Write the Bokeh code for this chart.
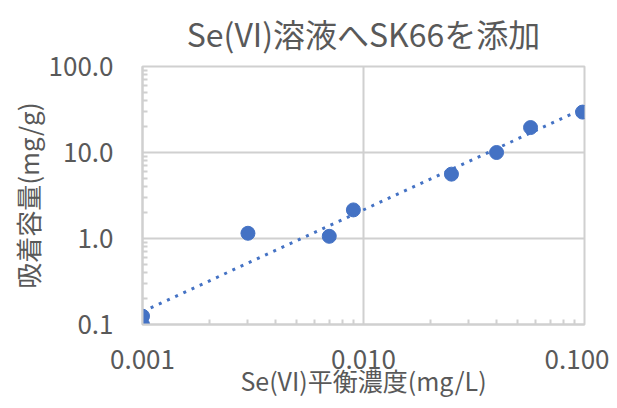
import numpy as np
from bokeh.plotting import figure
from bokeh.models import PrintfTickFormatter, Title, Range1d, FixedTicker
from bokeh.embed import file_html
from bokeh.resources import INLINE

# data
conc = [0.001, 0.001, 0.003, 0.007, 0.009, 0.025, 0.040, 0.057, 0.098]
capacity = [0.10, 0.125, 1.15, 1.06, 2.15, 5.6, 10.0, 19.5, 29.5]

x_ticks = [0.001, 0.01, 0.1]
y_ticks = [0.1, 1.0, 10.0, 100.0]

title_text = "Se(VI)溶液へSK66を添加"
x_label = "Se(VI)平衡濃度(mg/L)"
y_label = "吸着容量(mg/g)"

FONT = "Noto Sans CJK JP"
TXT = "#595959"
GRID = "#d0d0d0"
BLUE = "#4472C4"

# power-law trendline (least squares in log space), as Excel does
lx = np.log10(conc)
ly = np.log10(capacity)
b, a = np.polyfit(lx, ly, 1)
tx = np.array([min(conc), max(conc)])
ty = 10 ** (a + b * np.log10(tx))


def minors(majors):
    return [m * k for m in majors[:-1] for k in range(2, 10)]


p = figure(width=609, height=400, x_axis_type="log", y_axis_type="log",
           x_range=Range1d(0.001, 0.1), y_range=Range1d(0.1, 100),
           output_backend="svg", toolbar_location=None,
           min_border_left=142, min_border_right=25,
           min_border_top=65, min_border_bottom=73)

p.outline_line_color = GRID
p.outline_line_width = 2
p.background_fill_color = "white"
p.border_fill_color = "white"

p.xaxis.ticker = FixedTicker(ticks=x_ticks, minor_ticks=minors(x_ticks))
p.yaxis.ticker = FixedTicker(ticks=y_ticks, minor_ticks=minors(y_ticks))

for g in (p.xgrid, p.ygrid):
    g.grid_line_color = GRID
    g.grid_line_width = 2

for ax in (p.xaxis, p.yaxis):
    ax.axis_line_color = GRID
    ax.axis_line_width = 2
    ax.major_tick_in = 0
    ax.major_tick_out = 0
    ax.minor_tick_in = 5
    ax.minor_tick_out = 0
    ax.minor_tick_line_color = GRID
    ax.minor_tick_line_width = 2
    ax.major_label_text_font = FONT
    ax.major_label_text_font_size = "26px"
    ax.major_label_text_color = TXT
    ax.axis_label_text_font = FONT
    ax.axis_label_text_font_size = "26px"
    ax.axis_label_text_font_style = "normal"
    ax.axis_label_text_color = TXT

p.yaxis.formatter = PrintfTickFormatter(format="%.1f")
p.xaxis.formatter = PrintfTickFormatter(format="%.3f")
p.yaxis.major_label_standoff = 29
p.xaxis.major_label_standoff = 25

p.yaxis.axis_label = y_label
p.yaxis.axis_label_standoff = 0

p.xaxis.axis_label = x_label
p.xaxis.axis_label_text_font_size = "25px"
p.xaxis.axis_label_standoff = -10

tt = Title(text=title_text, align="center", vertical_align="top",
           text_font=FONT, text_font_size="32px", text_font_style="normal",
           text_color=TXT, standoff=18)
p.add_layout(tt, "above")

p.line(tx, ty, line_color=BLUE, line_width=3, line_dash="3 6")
p.scatter(conc, capacity, size=14, color=BLUE)

open("out.html", "w").write(file_html(p, INLINE))
